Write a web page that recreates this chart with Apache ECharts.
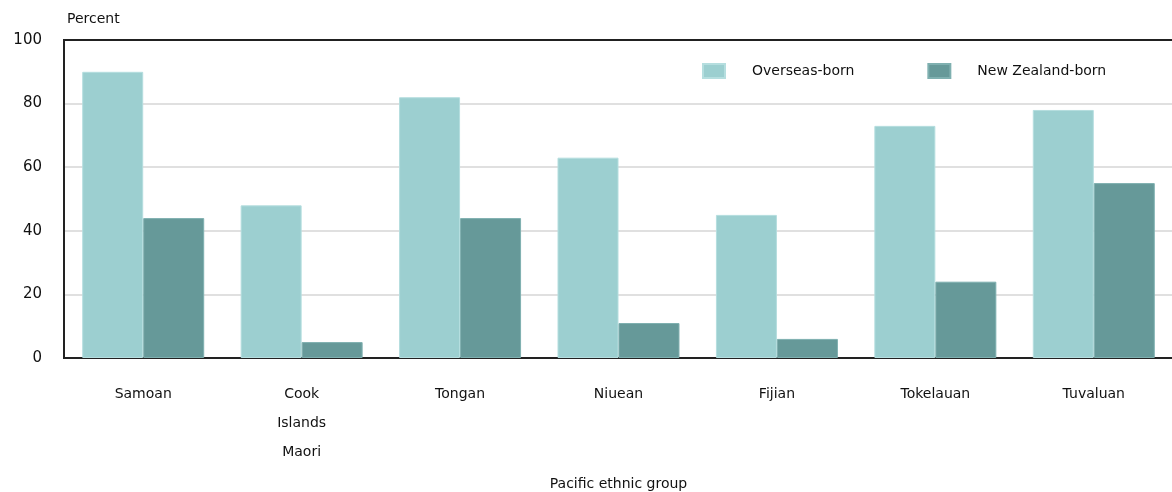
<!DOCTYPE html>
<html>
<head>
<meta charset="utf-8">
<script src="https://cdn.jsdelivr.net/npm/echarts@6/dist/echarts.min.js"></script>
<style>
  html, body { margin: 0; padding: 0; background: #fff; }
  #chart { width: 1172px; height: 492px; }
</style>
</head>
<body>
<div id="chart"></div>
<script>
// ethnic groups along the x axis
const groups = ['Samoan', 'Cook\nIslands\nMaori', 'Tongan', 'Niuean', 'Fijian', 'Tokelauan', 'Tuvaluan']
const overseasBorn = [90, 48, 82, 63, 45, 73, 78]
const nzBorn = [44, 5, 44, 11, 6, 24, 55]
const seriesNames = ['Overseas-born', 'New Zealand-born']

const font = 'DejaVu Sans'
const gridGrey = '#d6d6d6'

const chart = echarts.init(document.getElementById('chart'))
chart.setOption({
  animation: false,
  textStyle: { fontFamily: font },
  grid: {
    left: 64,
    right: -1,
    top: 40,
    bottom: 134,
    outerBoundsMode: 'none',
    containLabel: false,
    show: true,
    borderColor: '#222',
    borderWidth: 2
  },
  legend: {
    top: 58,
    left: 697,
    itemWidth: 22,
    itemHeight: 14,
    itemGap: 73,
    icon: 'rect',
    textStyle: { fontSize: 14, color: '#111', padding: [0, 0, 0, 22] },
    data: seriesNames
  },
  xAxis: {
    type: 'category',
    data: groups,
    name: 'Pacific ethnic group',
    nameLocation: 'middle',
    nameGap: 119,
    nameTextStyle: { fontSize: 14, color: '#111' },
    axisLine: { lineStyle: { color: '#222', width: 2 } },
    axisTick: { show: false },
    axisLabel: { margin: 22, fontSize: 14, color: '#111', lineHeight: 29 }
  },
  yAxis: {
    type: 'value',
    min: 0,
    max: 100,
    interval: 20,
    name: 'Percent',
    nameLocation: 'end',
    nameGap: 14,
    nameTextStyle: { fontSize: 14, color: '#111', align: 'left', padding: [0, 0, 0, 3] },
    axisLine: { show: true, lineStyle: { color: '#222', width: 2 } },
    axisTick: { show: false },
    axisLabel: { margin: 22, fontSize: 15, color: '#111' },
    // last split line is the top frame, keep it dark
    splitLine: { lineStyle: { color: [gridGrey, gridGrey, gridGrey, gridGrey, gridGrey, '#222'], width: 1.5 } }
  },
  series: [
    {
      name: seriesNames[0],
      type: 'bar',
      data: overseasBorn,
      barGap: '0%',
      barCategoryGap: '23%',
      itemStyle: { color: '#9ccfd0', borderColor: '#b5dedf', borderWidth: 1 }
    },
    {
      name: seriesNames[1],
      type: 'bar',
      data: nzBorn,
      itemStyle: { color: '#669999', borderColor: '#7fb0b0', borderWidth: 1 }
    }
  ]
})
</script>
</body>
</html>
